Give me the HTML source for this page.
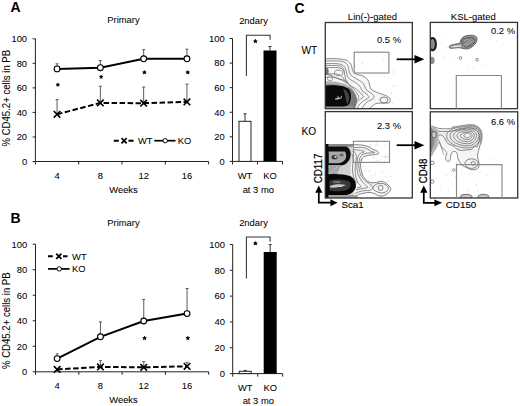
<!DOCTYPE html><html><head><meta charset="utf-8"><style>html,body{margin:0;padding:0;background:#fff;}svg{display:block;}text{stroke:#000;stroke-width:0.05px;}</style></head><body>
<svg width="520" height="406" viewBox="0 0 520 406" font-family="Liberation Sans, sans-serif" fill="#000">
<rect width="520" height="406" fill="#fff"/>
<text x="10.4" y="12.4" font-size="14" text-anchor="start" font-weight="bold" >A</text>
<text x="10.6" y="222.6" font-size="14" text-anchor="start" font-weight="bold" >B</text>
<text x="294.6" y="12.8" font-size="14" text-anchor="start" font-weight="bold" >C</text>
<path d="M35.4,38.8V161.5H208.6" fill="none" stroke="#222" stroke-width="1"/>
<path d="M32.6,161.50H35.4" stroke="#222" stroke-width="1"/>
<text x="27.099999999999998" y="164.8" font-size="9.4" text-anchor="end" font-weight="normal" >0</text>
<path d="M32.6,136.96H35.4" stroke="#222" stroke-width="1"/>
<text x="27.099999999999998" y="140.26000000000002" font-size="9.4" text-anchor="end" font-weight="normal" >20</text>
<path d="M32.6,112.42H35.4" stroke="#222" stroke-width="1"/>
<text x="27.099999999999998" y="115.71999999999998" font-size="9.4" text-anchor="end" font-weight="normal" >40</text>
<path d="M32.6,87.88H35.4" stroke="#222" stroke-width="1"/>
<text x="27.099999999999998" y="91.17999999999999" font-size="9.4" text-anchor="end" font-weight="normal" >60</text>
<path d="M32.6,63.34H35.4" stroke="#222" stroke-width="1"/>
<text x="27.099999999999998" y="66.63999999999999" font-size="9.4" text-anchor="end" font-weight="normal" >80</text>
<path d="M32.6,38.80H35.4" stroke="#222" stroke-width="1"/>
<text x="27.099999999999998" y="42.099999999999994" font-size="9.4" text-anchor="end" font-weight="normal" >100</text>
<path d="M35.40,161.5V164.5" stroke="#222" stroke-width="1"/>
<path d="M78.70,161.5V164.5" stroke="#222" stroke-width="1"/>
<path d="M122.00,161.5V164.5" stroke="#222" stroke-width="1"/>
<path d="M165.30,161.5V164.5" stroke="#222" stroke-width="1"/>
<path d="M208.60,161.5V164.5" stroke="#222" stroke-width="1"/>
<text x="57.05" y="178.8" font-size="9.4" text-anchor="middle" font-weight="normal" >4</text>
<text x="100.35" y="178.8" font-size="9.4" text-anchor="middle" font-weight="normal" >8</text>
<text x="143.65" y="178.8" font-size="9.4" text-anchor="middle" font-weight="normal" >12</text>
<text x="186.95" y="178.8" font-size="9.4" text-anchor="middle" font-weight="normal" >16</text>
<text x="123.5" y="193.1" font-size="9.4" text-anchor="middle" font-weight="normal" >Weeks</text>
<text x="123.5" y="23.3" font-size="9.4" text-anchor="middle" font-weight="normal" >Primary</text>
<text transform="translate(10.1,98.2) scale(1.1,1) rotate(-90)" font-size="9.6" text-anchor="middle">% CD45.2+ cells in PB</text>
<path d="M57.05,68.9V63.8M55.55,63.8H58.55" stroke="#4a4a4a" stroke-width="0.9" fill="none"/>
<path d="M57.05,114.3V99.6M55.55,99.6H58.55" stroke="#4a4a4a" stroke-width="0.9" fill="none"/>
<path d="M100.35,67.7V60.5M98.85,60.5H101.85" stroke="#4a4a4a" stroke-width="0.9" fill="none"/>
<path d="M100.35,102.9V86.2M98.85,86.2H101.85" stroke="#4a4a4a" stroke-width="0.9" fill="none"/>
<path d="M143.65,58.8V49.7M142.15,49.7H145.15" stroke="#4a4a4a" stroke-width="0.9" fill="none"/>
<path d="M143.65,103.2V87.1M142.15,87.1H145.15" stroke="#4a4a4a" stroke-width="0.9" fill="none"/>
<path d="M186.95,58.8V49.2M185.45,49.2H188.45" stroke="#4a4a4a" stroke-width="0.9" fill="none"/>
<path d="M186.95,101.9V84.2M185.45,84.2H188.45" stroke="#4a4a4a" stroke-width="0.9" fill="none"/>
<path d="M57.85,84.70L57.85,83.15M57.85,84.70L59.32,84.22M57.85,84.70L58.76,85.95M57.85,84.70L56.94,85.95M57.85,84.70L56.38,84.22" stroke="#000" stroke-width="1.15" stroke-linecap="round" fill="none"/>
<path d="M101.15,76.80L101.15,75.25M101.15,76.80L102.62,76.32M101.15,76.80L102.06,78.05M101.15,76.80L100.24,78.05M101.15,76.80L99.68,76.32" stroke="#000" stroke-width="1.15" stroke-linecap="round" fill="none"/>
<path d="M144.45,72.40L144.45,70.85M144.45,72.40L145.92,71.92M144.45,72.40L145.36,73.65M144.45,72.40L143.54,73.65M144.45,72.40L142.98,71.92" stroke="#000" stroke-width="1.15" stroke-linecap="round" fill="none"/>
<path d="M187.75,72.40L187.75,70.85M187.75,72.40L189.22,71.92M187.75,72.40L188.66,73.65M187.75,72.40L186.84,73.65M187.75,72.40L186.28,71.92" stroke="#000" stroke-width="1.15" stroke-linecap="round" fill="none"/>
<polyline points="57.05,114.3 100.35,102.9 143.65,103.2 186.95,101.9" fill="none" stroke="#000" stroke-width="2" stroke-dasharray="5.5,2.5"/>
<polyline points="57.05,68.9 100.35,67.7 143.65,58.8 186.95,58.8" fill="none" stroke="#000" stroke-width="2"/>
<path d="M53.75,111.00L60.35,117.60M53.75,117.60L60.35,111.00" stroke="#000" stroke-width="1.6"/>
<circle cx="57.05" cy="68.9" r="2.9" fill="#fff" stroke="#000" stroke-width="1.1"/>
<path d="M97.05,99.60L103.65,106.20M97.05,106.20L103.65,99.60" stroke="#000" stroke-width="1.6"/>
<circle cx="100.35" cy="67.7" r="2.9" fill="#fff" stroke="#000" stroke-width="1.1"/>
<path d="M140.35,99.90L146.95,106.50M140.35,106.50L146.95,99.90" stroke="#000" stroke-width="1.6"/>
<circle cx="143.65" cy="58.8" r="2.9" fill="#fff" stroke="#000" stroke-width="1.1"/>
<path d="M183.65,98.60L190.25,105.20M183.65,105.20L190.25,98.60" stroke="#000" stroke-width="1.6"/>
<circle cx="186.95" cy="58.8" r="2.9" fill="#fff" stroke="#000" stroke-width="1.1"/>
<path d="M113.8,140.8H118.8M128.5,140.8H133.6" stroke="#000" stroke-width="1.9"/>
<path d="M121.5,138.20000000000002L126.69999999999999,143.4M121.5,143.4L126.69999999999999,138.20000000000002" stroke="#000" stroke-width="1.8"/>
<text x="138" y="144.10000000000002" font-size="9.4" text-anchor="start" font-weight="normal" >WT</text>
<path d="M154.3,140.7H175.5" stroke="#000" stroke-width="1.7"/>
<circle cx="165.2" cy="140.7" r="2.2" fill="#fff" stroke="#000" stroke-width="0.95"/>
<text x="177.7" y="144.0" font-size="9.4" text-anchor="start" font-weight="normal" >KO</text>
<path d="M35.5,244.2V371.8H208.7" fill="none" stroke="#222" stroke-width="1"/>
<path d="M32.7,371.80H35.5" stroke="#222" stroke-width="1"/>
<text x="27.2" y="375.1" font-size="9.4" text-anchor="end" font-weight="normal" >0</text>
<path d="M32.7,346.28H35.5" stroke="#222" stroke-width="1"/>
<text x="27.2" y="349.58000000000004" font-size="9.4" text-anchor="end" font-weight="normal" >20</text>
<path d="M32.7,320.76H35.5" stroke="#222" stroke-width="1"/>
<text x="27.2" y="324.06" font-size="9.4" text-anchor="end" font-weight="normal" >40</text>
<path d="M32.7,295.24H35.5" stroke="#222" stroke-width="1"/>
<text x="27.2" y="298.54" font-size="9.4" text-anchor="end" font-weight="normal" >60</text>
<path d="M32.7,269.72H35.5" stroke="#222" stroke-width="1"/>
<text x="27.2" y="273.02000000000004" font-size="9.4" text-anchor="end" font-weight="normal" >80</text>
<path d="M32.7,244.20H35.5" stroke="#222" stroke-width="1"/>
<text x="27.2" y="247.5" font-size="9.4" text-anchor="end" font-weight="normal" >100</text>
<path d="M35.50,371.8V374.8" stroke="#222" stroke-width="1"/>
<path d="M78.80,371.8V374.8" stroke="#222" stroke-width="1"/>
<path d="M122.10,371.8V374.8" stroke="#222" stroke-width="1"/>
<path d="M165.40,371.8V374.8" stroke="#222" stroke-width="1"/>
<path d="M208.70,371.8V374.8" stroke="#222" stroke-width="1"/>
<text x="57.15" y="389.2" font-size="9.4" text-anchor="middle" font-weight="normal" >4</text>
<text x="100.45" y="389.2" font-size="9.4" text-anchor="middle" font-weight="normal" >8</text>
<text x="143.75" y="389.2" font-size="9.4" text-anchor="middle" font-weight="normal" >12</text>
<text x="187.05" y="389.2" font-size="9.4" text-anchor="middle" font-weight="normal" >16</text>
<text x="123.5" y="403.2" font-size="9.4" text-anchor="middle" font-weight="normal" >Weeks</text>
<text x="123.5" y="225.6" font-size="9.4" text-anchor="middle" font-weight="normal" >Primary</text>
<text transform="translate(10.1,320.7) scale(1.1,1) rotate(-90)" font-size="9.6" text-anchor="middle">% CD45.2+ cells in PB</text>
<path d="M57.15,358.6V353.9M55.65,353.9H58.65" stroke="#4a4a4a" stroke-width="0.9" fill="none"/>
<path d="M100.45,336.8V321.9M98.95,321.9H101.95" stroke="#4a4a4a" stroke-width="0.9" fill="none"/>
<path d="M100.45,366.9V360.7M98.95,360.7H101.95" stroke="#4a4a4a" stroke-width="0.9" fill="none"/>
<path d="M143.75,321.0V299.5M142.25,299.5H145.25" stroke="#4a4a4a" stroke-width="0.9" fill="none"/>
<path d="M143.75,367.3V361.6M142.25,361.6H145.25" stroke="#4a4a4a" stroke-width="0.9" fill="none"/>
<path d="M187.05,313.6V288.5M185.55,288.5H188.55" stroke="#4a4a4a" stroke-width="0.9" fill="none"/>
<path d="M187.05,366.3V362.3M185.55,362.3H188.55" stroke="#4a4a4a" stroke-width="0.9" fill="none"/>
<path d="M144.55,338.10L144.55,336.55M144.55,338.10L146.02,337.62M144.55,338.10L145.46,339.35M144.55,338.10L143.64,339.35M144.55,338.10L143.08,337.62" stroke="#000" stroke-width="1.15" stroke-linecap="round" fill="none"/>
<path d="M187.85,338.10L187.85,336.55M187.85,338.10L189.32,337.62M187.85,338.10L188.76,339.35M187.85,338.10L186.94,339.35M187.85,338.10L186.38,337.62" stroke="#000" stroke-width="1.15" stroke-linecap="round" fill="none"/>
<polyline points="57.15,369.4 100.45,366.9 143.75,367.3 187.05,366.3" fill="none" stroke="#000" stroke-width="2" stroke-dasharray="5.5,2.5"/>
<polyline points="57.15,358.6 100.45,336.8 143.75,321.0 187.05,313.6" fill="none" stroke="#000" stroke-width="2"/>
<path d="M53.85,366.10L60.45,372.70M53.85,372.70L60.45,366.10" stroke="#000" stroke-width="1.6"/>
<circle cx="57.15" cy="358.6" r="2.9" fill="#fff" stroke="#000" stroke-width="1.1"/>
<path d="M97.15,363.60L103.75,370.20M97.15,370.20L103.75,363.60" stroke="#000" stroke-width="1.6"/>
<circle cx="100.45" cy="336.8" r="2.9" fill="#fff" stroke="#000" stroke-width="1.1"/>
<path d="M140.45,364.00L147.05,370.60M140.45,370.60L147.05,364.00" stroke="#000" stroke-width="1.6"/>
<circle cx="143.75" cy="321.0" r="2.9" fill="#fff" stroke="#000" stroke-width="1.1"/>
<path d="M183.75,363.00L190.35,369.60M183.75,369.60L190.35,363.00" stroke="#000" stroke-width="1.6"/>
<circle cx="187.05" cy="313.6" r="2.9" fill="#fff" stroke="#000" stroke-width="1.1"/>
<path d="M48,256.3H52.8M63,256.3H67.5" stroke="#000" stroke-width="1.9"/>
<path d="M56.199999999999996,253.70000000000002L61.4,258.90000000000003M56.199999999999996,258.90000000000003L61.4,253.70000000000002" stroke="#000" stroke-width="1.8"/>
<text x="72.1" y="259.6" font-size="9.4" text-anchor="start" font-weight="normal" >WT</text>
<path d="M48,268.9H69.6" stroke="#000" stroke-width="1.7"/>
<circle cx="59.2" cy="268.9" r="2.2" fill="#fff" stroke="#000" stroke-width="0.95"/>
<text x="72.1" y="272.2" font-size="9.4" text-anchor="start" font-weight="normal" >KO</text>
<path d="M232.5,38.5V161.4H282.5" fill="none" stroke="#222" stroke-width="1"/>
<path d="M229.7,161.40H232.5" stroke="#222" stroke-width="1"/>
<text x="224.7" y="164.70000000000002" font-size="9.4" text-anchor="end" font-weight="normal" >0</text>
<path d="M229.7,136.82H232.5" stroke="#222" stroke-width="1"/>
<text x="224.7" y="140.12" font-size="9.4" text-anchor="end" font-weight="normal" >20</text>
<path d="M229.7,112.24H232.5" stroke="#222" stroke-width="1"/>
<text x="224.7" y="115.54" font-size="9.4" text-anchor="end" font-weight="normal" >40</text>
<path d="M229.7,87.66H232.5" stroke="#222" stroke-width="1"/>
<text x="224.7" y="90.96" font-size="9.4" text-anchor="end" font-weight="normal" >60</text>
<path d="M229.7,63.08H232.5" stroke="#222" stroke-width="1"/>
<text x="224.7" y="66.38" font-size="9.4" text-anchor="end" font-weight="normal" >80</text>
<path d="M229.7,38.50H232.5" stroke="#222" stroke-width="1"/>
<text x="224.7" y="41.8" font-size="9.4" text-anchor="end" font-weight="normal" >100</text>
<path d="M232.5,161.4V164.4" stroke="#222" stroke-width="1"/>
<path d="M257.5,161.4V164.4" stroke="#222" stroke-width="1"/>
<path d="M282.5,161.4V164.4" stroke="#222" stroke-width="1"/>
<path d="M245.00,121.3V113.8M243.50,113.8H246.50" stroke="#333" stroke-width="1"/>
<rect x="239.00" y="121.3" width="12" height="40.10" fill="#fff" stroke="#222" stroke-width="1"/>
<path d="M270.00,50.5V46.5M268.50,46.5H271.50" stroke="#333" stroke-width="1"/>
<rect x="263.50" y="50.5" width="13" height="110.90" fill="#000"/>
<path d="M246.4,76V35.3H270.1V39.7" fill="none" stroke="#333" stroke-width="1.05"/>
<path d="M255.40,41.20L255.40,39.65M255.40,41.20L256.87,40.72M255.40,41.20L256.31,42.45M255.40,41.20L254.49,42.45M255.40,41.20L253.93,40.72" stroke="#000" stroke-width="1.15" stroke-linecap="round" fill="none"/>
<text x="245.0" y="179" font-size="9.4" text-anchor="middle" font-weight="normal" >WT</text>
<text x="270.0" y="179" font-size="9.4" text-anchor="middle" font-weight="normal" >KO</text>
<text x="258.3" y="193.1" font-size="9.4" text-anchor="middle" font-weight="normal" >at 3 mo</text>
<text x="253.5" y="24.4" font-size="9.4" text-anchor="middle" font-weight="normal" >2ndary</text>
<path d="M232.7,244.5V373.6H282.7" fill="none" stroke="#222" stroke-width="1"/>
<path d="M229.89999999999998,373.60H232.7" stroke="#222" stroke-width="1"/>
<text x="224.89999999999998" y="376.90000000000003" font-size="9.4" text-anchor="end" font-weight="normal" >0</text>
<path d="M229.89999999999998,347.78H232.7" stroke="#222" stroke-width="1"/>
<text x="224.89999999999998" y="351.08000000000004" font-size="9.4" text-anchor="end" font-weight="normal" >20</text>
<path d="M229.89999999999998,321.96H232.7" stroke="#222" stroke-width="1"/>
<text x="224.89999999999998" y="325.26000000000005" font-size="9.4" text-anchor="end" font-weight="normal" >40</text>
<path d="M229.89999999999998,296.14H232.7" stroke="#222" stroke-width="1"/>
<text x="224.89999999999998" y="299.44" font-size="9.4" text-anchor="end" font-weight="normal" >60</text>
<path d="M229.89999999999998,270.32H232.7" stroke="#222" stroke-width="1"/>
<text x="224.89999999999998" y="273.62" font-size="9.4" text-anchor="end" font-weight="normal" >80</text>
<path d="M229.89999999999998,244.50H232.7" stroke="#222" stroke-width="1"/>
<text x="224.89999999999998" y="247.8" font-size="9.4" text-anchor="end" font-weight="normal" >100</text>
<path d="M232.7,373.6V376.6" stroke="#222" stroke-width="1"/>
<path d="M257.7,373.6V376.6" stroke="#222" stroke-width="1"/>
<path d="M282.7,373.6V376.6" stroke="#222" stroke-width="1"/>
<path d="M245.20,371.3V370.4M243.70,370.4H246.70" stroke="#333" stroke-width="1"/>
<rect x="239.20" y="371.3" width="12" height="2.30" fill="#fff" stroke="#222" stroke-width="1"/>
<path d="M270.20,252V244.6M268.70,244.6H271.70" stroke="#333" stroke-width="1"/>
<rect x="263.70" y="252" width="13" height="121.60" fill="#000"/>
<path d="M246.4,278.4V236.9H270.1V241.7" fill="none" stroke="#333" stroke-width="1.05"/>
<path d="M255.40,243.40L255.40,241.85M255.40,243.40L256.87,242.92M255.40,243.40L256.31,244.65M255.40,243.40L254.49,244.65M255.40,243.40L253.93,242.92" stroke="#000" stroke-width="1.15" stroke-linecap="round" fill="none"/>
<text x="245.2" y="391.3" font-size="9.4" text-anchor="middle" font-weight="normal" >WT</text>
<text x="270.2" y="391.3" font-size="9.4" text-anchor="middle" font-weight="normal" >KO</text>
<text x="258.3" y="404.1" font-size="9.4" text-anchor="middle" font-weight="normal" >at 3 mo</text>
<text x="253.5" y="225.6" font-size="9.4" text-anchor="middle" font-weight="normal" >2ndary</text>
<defs><clipPath id="c1"><rect x="325.3" y="22.5" width="87" height="86.2"/></clipPath><clipPath id="c2"><rect x="430.3" y="22.4" width="87.2" height="86.3"/></clipPath><clipPath id="c3"><rect x="325.3" y="111.6" width="87" height="86.4"/></clipPath><clipPath id="c4"><rect x="430.3" y="111.8" width="87.4" height="86.2"/></clipPath><radialGradient id="g1" cx="0.45" cy="0.55" r="0.55"><stop offset="0" stop-color="#000"/><stop offset="0.65" stop-color="#0a0a0a"/><stop offset="0.85" stop-color="#555"/><stop offset="1" stop-color="#aaa" stop-opacity="0"/></radialGradient><radialGradient id="gk" cx="0.5" cy="0.5" r="0.5"><stop offset="0" stop-color="#777"/><stop offset="0.6" stop-color="#999"/><stop offset="1" stop-color="#bbb" stop-opacity="0.3"/></radialGradient></defs>
<g clip-path="url(#c1)">
<path d="M324.0,58.9C325.4,58.9 330.0,58.6 332.6,58.6C335.2,58.6 337.2,58.6 339.5,58.9C341.8,59.2 344.7,59.6 346.4,60.2C348.1,60.9 349.0,61.8 349.9,62.8C350.8,63.8 351.2,65.0 351.6,66.2C352.0,67.4 352.0,68.6 352.4,69.7C352.8,70.8 353.3,72.3 354.2,73.1C355.1,73.9 356.2,74.1 357.6,74.6C359.0,75.0 360.9,75.2 362.4,75.8C363.8,76.4 365.2,77.2 366.3,78.2C367.4,79.2 368.1,80.3 368.7,81.5C369.2,82.7 369.2,84.1 369.6,85.4C370.0,86.7 370.2,88.2 371.1,89.2C372.0,90.2 373.5,90.9 374.9,91.6C376.3,92.3 378.1,92.9 379.7,93.5C381.3,94.1 383.1,94.4 384.5,95.0C385.9,95.6 387.3,96.1 388.3,96.9C389.3,97.7 390.1,98.8 390.3,99.8C390.5,100.8 390.3,102.2 389.3,102.7C388.3,103.2 386.1,103.0 384.5,103.1C382.9,103.2 381.1,103.0 379.7,103.1C378.3,103.2 377.0,103.2 375.9,103.6C374.8,104.0 374.0,104.8 373.0,105.5C372.0,106.2 370.8,107.2 370.1,107.9C369.4,108.7 376.7,109.7 369.0,110.0C361.3,110.3 331.5,110.0 324.0,110.0" fill="#f7f7f7" stroke="#6a6a6a" stroke-width="0.8"/>
<path d="M324.0,61.0C325.7,61.0 331.4,60.9 334.3,60.9C337.2,60.9 339.3,60.9 341.2,61.2C343.1,61.5 344.5,62.0 345.6,62.8C346.8,63.6 347.5,64.9 348.1,66.2C348.7,67.5 348.6,69.1 349.0,70.5C349.4,71.9 349.8,73.6 350.7,74.8C351.6,76.0 352.9,76.6 354.2,77.5C355.5,78.4 357.1,79.2 358.5,80.0C359.9,80.8 361.4,81.5 362.5,82.5C363.6,83.5 364.1,85.0 364.8,86.3C365.5,87.6 365.6,89.1 366.7,90.2C367.8,91.3 369.9,92.1 371.1,93.1C372.3,94.0 373.6,95.0 373.9,95.9C374.2,96.9 373.8,98.0 373.0,98.8C372.2,99.6 370.4,99.9 369.1,100.7C367.8,101.5 366.4,102.5 365.3,103.6C364.2,104.7 363.0,106.4 362.4,107.5C361.8,108.6 361.6,109.6 361.5,110.0" fill="none" stroke="#6a6a6a" stroke-width="0.75"/>
<path d="M324.0,63.6C325.9,63.6 332.3,63.5 335.2,63.6C338.1,63.8 339.6,63.9 341.2,64.5C342.8,65.1 343.8,65.9 344.7,67.1C345.6,68.2 346.0,70.0 346.4,71.4C346.8,72.8 346.8,74.4 347.3,75.7C347.8,77.0 348.4,78.0 349.5,79.0C350.6,80.0 352.4,80.7 353.8,81.5C355.2,82.3 356.5,83.0 357.6,84.0C358.7,85.0 359.7,86.1 360.5,87.3C361.3,88.5 361.4,90.0 362.4,91.1C363.4,92.2 365.2,93.0 366.3,94.0C367.4,95.0 369.0,96.1 369.1,96.9C369.2,97.7 368.3,98.0 367.2,98.8C366.1,99.6 363.8,100.6 362.4,101.7C361.0,102.8 359.5,104.1 358.6,105.5C357.7,106.9 357.3,109.2 357.0,110.0" fill="none" stroke="#6a6a6a" stroke-width="0.75"/>
<path d="M324.0,67.3C324.9,67.3 327.5,67.5 329.2,67.6C330.9,67.6 332.6,67.5 334.3,67.6C336.0,67.6 338.1,67.6 339.5,67.9C340.9,68.2 342.1,68.7 343.0,69.7C343.9,70.7 344.3,72.4 344.7,74.0C345.1,75.6 345.0,77.5 345.6,79.1C346.2,80.7 347.1,82.2 348.1,83.4C349.1,84.6 350.5,85.7 351.8,86.5C353.1,87.3 354.6,87.7 355.7,88.5C356.8,89.3 357.7,90.2 358.6,91.1C359.6,92.0 360.6,93.0 361.4,94.0C362.2,95.0 363.7,95.9 363.4,96.9C363.1,97.9 360.8,98.7 359.5,99.8C358.2,100.9 356.8,102.3 355.7,103.6C354.6,104.9 353.4,106.4 352.8,107.5C352.2,108.6 352.1,109.6 352.0,110.0" fill="none" stroke="#6a6a6a" stroke-width="0.75"/>
<path d="M324.0,65.4C325.7,65.4 331.2,65.4 334.0,65.5C336.8,65.6 338.9,65.7 340.5,66.2C342.1,66.7 342.6,67.5 343.3,68.5C344.0,69.5 344.4,71.8 344.6,72.5" fill="none" stroke="#6a6a6a" stroke-width="0.75"/>
<path d="M324.0,74.2C324.7,74.2 326.7,74.2 328.0,74.4C329.3,74.6 330.8,75.1 332.0,75.6C333.2,76.1 334.2,77.0 335.5,77.6C336.8,78.2 338.5,78.8 340.0,79.2C341.5,79.7 343.2,79.8 344.5,80.3C345.8,80.8 347.4,82.1 348.0,82.5" fill="none" stroke="#6a6a6a" stroke-width="0.75"/>
<path d="M324.0,77.6C325.0,77.5 327.8,77.1 330.0,77.2C332.2,77.3 334.9,77.6 337.0,78.2C339.1,78.8 340.9,79.7 342.5,80.6C344.1,81.5 345.8,83.1 346.5,83.6" fill="none" stroke="#6a6a6a" stroke-width="0.75"/>
<path d="M324.0,73.9L325.1,73.9L326.1,73.9L327.2,73.9L328.3,73.9L329.3,73.9L330.4,73.9L331.4,73.9L332.5,73.9L333.6,73.8L334.6,73.9L335.7,74.0L336.7,74.1L337.8,74.3L338.8,74.7L339.8,75.0L340.7,75.5L341.3,76.1L342.0,76.8L342.7,77.4L343.3,78.2L343.8,79.0L344.3,79.7L344.8,80.5L345.4,81.3L346.1,82.0L346.9,82.7L347.5,83.5L348.2,84.3L349.0,85.0L349.8,85.7L350.6,86.4L351.5,87.0L352.3,87.6L353.1,88.3L353.8,89.0L354.5,89.7L355.2,90.6L355.8,91.4L356.5,92.2L357.0,93.1L357.4,94.0L357.9,94.9L358.3,95.8L358.7,96.8L358.7,97.7L358.3,98.5L357.6,99.3L357.0,100.1L356.4,100.9L355.9,101.8L355.3,102.7L354.8,103.5L354.2,104.4L353.6,105.3L353.1,106.2L352.5,107.1L352.0,108.0L351.6,109.0L351.2,110.0" fill="none" stroke="#6a6a6a" stroke-width="0.75"/>
<circle cx="355.1" cy="66.5" r="0.45" fill="#b0b0b0"/><circle cx="364.6" cy="88.0" r="0.45" fill="#b0b0b0"/><circle cx="393.2" cy="75.3" r="0.45" fill="#b0b0b0"/><circle cx="392.4" cy="103.4" r="0.45" fill="#b0b0b0"/><circle cx="393.2" cy="71.0" r="0.45" fill="#b0b0b0"/><circle cx="363.0" cy="63.8" r="0.45" fill="#b0b0b0"/><circle cx="362.1" cy="62.6" r="0.45" fill="#b0b0b0"/><circle cx="379.6" cy="98.8" r="0.45" fill="#b0b0b0"/><circle cx="388.5" cy="76.9" r="0.45" fill="#b0b0b0"/><circle cx="380.8" cy="93.6" r="0.45" fill="#b0b0b0"/><circle cx="357.5" cy="86.4" r="0.45" fill="#b0b0b0"/><circle cx="391.3" cy="92.7" r="0.45" fill="#b0b0b0"/><circle cx="384.8" cy="76.9" r="0.45" fill="#b0b0b0"/><circle cx="361.3" cy="93.0" r="0.45" fill="#b0b0b0"/><circle cx="367.6" cy="93.6" r="0.45" fill="#b0b0b0"/><circle cx="393.8" cy="72.6" r="0.45" fill="#b0b0b0"/><circle cx="370.5" cy="101.2" r="0.45" fill="#b0b0b0"/><circle cx="383.7" cy="60.8" r="0.45" fill="#b0b0b0"/><circle cx="359.2" cy="59.9" r="0.45" fill="#b0b0b0"/><circle cx="391.1" cy="93.9" r="0.45" fill="#b0b0b0"/><circle cx="360.0" cy="95.0" r="0.45" fill="#b0b0b0"/><circle cx="394.2" cy="86.2" r="0.45" fill="#b0b0b0"/><circle cx="368.4" cy="80.5" r="0.45" fill="#b0b0b0"/><circle cx="393.8" cy="85.8" r="0.45" fill="#b0b0b0"/><circle cx="375.6" cy="100.5" r="0.45" fill="#b0b0b0"/>
<ellipse cx="338.6" cy="72.9" rx="4.2" ry="2.8" fill="none" stroke="#777" stroke-width="0.8"/>
<ellipse cx="330" cy="78.3" rx="2.6" ry="2.6" fill="none" stroke="#888" stroke-width="0.8"/>
<ellipse cx="384" cy="100" rx="3.9" ry="3" fill="none" stroke="#666" stroke-width="0.8"/>
<ellipse cx="326.5" cy="71.4" rx="2.2" ry="3.6" fill="#777"/>
<path d="M324,81.5 C336,80.5 347,83.5 352.5,89 C356.5,94 357,101 355,110 H324Z" fill="#b0b0b0"/>
<path d="M324,84.5 C335,83.5 346,86 350.5,90.5 C354,95 354,102 352,110 H324Z" fill="#7e7e7e"/>
<path d="M348,87 C353,89.5 356.5,94 357,99.5 C357.3,103.5 356,106.5 354,109 L350,109 C352.5,104 353,98 350.5,93 C349.5,90.5 348.5,88.5 348,87Z" fill="#7a7a7a"/>
<path d="M325,85.8 C332,84.6 344,85 348.5,88.8 C351.7,92.3 351.7,99 349.5,103.8 C347.3,107 340,107.8 333,107.8 L325,107.8Z" fill="#0a0a0a"/>
<path d="M343,88.5 C346.5,90 349,93 349.3,97 C349.3,100 348.5,102.5 347,104.5 C346,100 345,94 343,88.5Z" fill="#444"/>
<path d="M335,98.6 C337.5,97.6 340.5,97.2 342.5,97.8 C340.5,99.2 337.5,99.7 335,99.5Z" fill="#bbb"/>
<circle cx="338" cy="97" r="0.7" fill="#ddd"/><circle cx="341.5" cy="96.3" r="0.6" fill="#ccc"/>
<rect x="325" y="106.5" width="28" height="2.4" fill="#9a9a9a"/>
</g>
<g clip-path="url(#c3)">
<path d="M353.5,144.6C354.8,144.7 359.0,144.8 361.4,145.1C363.8,145.4 366.2,145.8 368.1,146.5C370.0,147.2 371.3,148.6 372.9,149.4C374.5,150.2 376.8,150.6 377.7,151.3C378.6,152.0 378.9,152.9 378.4,153.5C377.9,154.1 376.2,154.3 374.8,154.6C373.4,154.9 371.6,154.8 370.0,155.1C368.4,155.3 366.5,155.6 365.2,156.1C363.9,156.6 363.0,157.0 362.3,158.0C361.6,159.0 361.2,160.8 360.9,162.1C360.6,163.4 360.5,164.6 360.6,166.0C360.7,167.4 360.9,169.1 361.4,170.8C361.8,172.6 362.3,174.8 363.3,176.5C364.3,178.2 365.8,179.8 367.2,180.9C368.6,182.0 370.4,182.6 372.0,182.8C373.6,183.0 375.2,182.6 376.8,182.3C378.4,182.1 380.2,181.2 381.6,181.3C383.0,181.4 384.1,182.0 385.4,182.8C386.7,183.6 388.4,185.1 389.3,186.2C390.2,187.3 390.9,188.4 390.7,189.5C390.5,190.6 389.5,191.8 388.3,192.9C387.1,194.0 385.1,195.3 383.5,195.8C381.9,196.3 380.1,196.1 378.7,195.8C377.2,195.5 376.2,194.4 374.8,193.8C373.4,193.2 371.6,192.6 370.0,192.4C368.4,192.2 366.6,192.7 365.2,192.9C363.8,193.1 362.7,193.5 361.4,193.8C360.1,194.2 358.7,194.1 357.5,195.0C356.3,195.9 359.6,198.3 354.0,199.0C348.4,199.7 329.0,208.2 324.0,199.0C319.0,189.8 324.0,153.2 324.0,144.0" fill="#f5f5f5" stroke="#666" stroke-width="0.8" />
<path d="M353.0,147.5C354.6,147.5 359.9,147.3 362.3,147.5C364.7,147.7 365.8,148.3 367.2,148.9C368.6,149.5 369.7,150.7 371.0,151.3C372.3,151.9 375.0,152.2 374.8,152.5C374.6,152.8 371.6,152.8 370.0,153.0C368.4,153.2 366.6,153.1 365.2,153.5C363.8,153.9 362.3,154.5 361.4,155.4C360.4,156.3 359.9,157.6 359.5,159.2C359.1,160.8 358.8,163.0 358.8,165.0C358.8,167.0 359.1,169.1 359.5,171.0C359.9,172.9 360.5,174.8 361.5,176.5C362.5,178.2 364.0,179.7 365.5,181.0C367.0,182.3 369.2,183.5 370.5,184.5C371.8,185.5 373.1,186.0 373.0,187.0C372.9,188.0 371.3,189.7 370.0,190.3C368.7,190.9 366.7,190.3 365.0,190.5C363.3,190.7 361.7,191.0 360.0,191.5C358.3,192.0 355.8,193.2 355.0,193.5" fill="none" stroke="#6a6a6a" stroke-width="0.75" />
<path d="M353.0,149.6C354.2,149.7 358.5,150.0 360.4,150.4C362.3,150.8 364.3,151.5 364.3,152.0C364.3,152.5 361.4,152.8 360.4,153.5C359.3,154.2 358.6,154.9 358.0,156.3C357.4,157.7 357.3,160.2 357.1,162.1C356.9,164.0 356.9,166.0 357.0,168.0C357.1,170.0 357.3,172.0 358.0,174.0C358.7,176.0 359.8,178.2 361.0,180.0C362.2,181.8 363.9,183.2 365.0,184.5C366.1,185.8 368.0,186.8 367.5,187.5C367.0,188.2 363.9,188.1 362.0,188.5C360.1,188.9 357.0,189.8 356.0,190.0" fill="none" stroke="#6a6a6a" stroke-width="0.75" />
<path d="M352.5,151.5C352.9,151.7 354.5,151.5 355.1,152.5C355.8,153.5 356.3,155.5 356.4,157.3C356.5,159.1 355.8,161.0 355.6,163.1C355.4,165.2 355.1,167.7 355.1,170.0C355.1,172.3 355.3,174.8 355.8,177.0C356.3,179.2 357.1,181.4 358.0,183.0C358.9,184.6 361.2,185.7 361.0,186.5C360.8,187.3 357.7,187.8 357.0,188.0" fill="none" stroke="#6a6a6a" stroke-width="0.75" />
<path d="M351.5,153.0C351.8,153.8 352.8,156.2 353.0,158.0C353.2,159.8 352.9,162.0 352.8,164.0C352.7,166.0 352.4,167.8 352.5,170.0C352.6,172.2 352.8,174.8 353.5,177.0C354.2,179.2 356.0,182.0 356.5,183.0" fill="none" stroke="#6a6a6a" stroke-width="0.75" />
<path d="M380.6,183.3C382.3,183.3 384.2,183.8 385.5,184.5C386.8,185.2 388.1,186.3 388.3,187.5C388.5,188.7 387.7,190.6 386.5,191.5C385.3,192.4 382.8,193.0 381.0,192.9C379.2,192.8 376.9,191.8 375.5,191.0C374.1,190.2 372.9,189.1 372.9,188.0C372.9,186.9 374.2,185.3 375.5,184.5C376.8,183.7 378.9,183.3 380.6,183.3Z" fill="none" stroke="#666" stroke-width="0.8" />
<ellipse cx="380.6" cy="187.8" rx="2.4" ry="2.6" fill="none" stroke="#666" stroke-width="0.8"/>
<circle cx="369.0" cy="149.5" r="0.45" fill="#aaa"/><circle cx="376.2" cy="160.3" r="0.45" fill="#aaa"/><circle cx="360.0" cy="167.4" r="0.45" fill="#aaa"/><circle cx="359.3" cy="163.7" r="0.45" fill="#aaa"/><circle cx="372.4" cy="183.3" r="0.45" fill="#aaa"/><circle cx="362.2" cy="153.2" r="0.45" fill="#aaa"/><circle cx="379.3" cy="189.4" r="0.45" fill="#aaa"/><circle cx="377.6" cy="161.8" r="0.45" fill="#aaa"/><circle cx="387.2" cy="156.5" r="0.45" fill="#aaa"/><circle cx="362.9" cy="147.9" r="0.45" fill="#aaa"/><circle cx="368.5" cy="182.8" r="0.45" fill="#aaa"/><circle cx="364.1" cy="171.1" r="0.45" fill="#aaa"/><circle cx="379.7" cy="160.6" r="0.45" fill="#aaa"/><circle cx="376.6" cy="145.1" r="0.45" fill="#aaa"/><circle cx="360.0" cy="152.3" r="0.45" fill="#aaa"/><circle cx="381.1" cy="163.4" r="0.45" fill="#aaa"/><circle cx="368.7" cy="171.3" r="0.45" fill="#aaa"/><circle cx="373.4" cy="157.0" r="0.45" fill="#aaa"/><circle cx="385.0" cy="176.9" r="0.45" fill="#aaa"/><circle cx="366.3" cy="170.7" r="0.45" fill="#aaa"/><circle cx="375.9" cy="185.8" r="0.45" fill="#aaa"/><circle cx="382.8" cy="156.4" r="0.45" fill="#aaa"/><circle cx="372.2" cy="179.9" r="0.45" fill="#aaa"/><circle cx="363.2" cy="166.4" r="0.45" fill="#aaa"/><circle cx="359.3" cy="175.4" r="0.45" fill="#aaa"/><circle cx="384.0" cy="170.7" r="0.45" fill="#aaa"/><circle cx="387.8" cy="157.7" r="0.45" fill="#aaa"/><circle cx="381.6" cy="171.7" r="0.45" fill="#aaa"/><circle cx="377.7" cy="164.8" r="0.45" fill="#aaa"/><circle cx="374.1" cy="175.2" r="0.45" fill="#aaa"/><circle cx="360.1" cy="177.1" r="0.45" fill="#aaa"/><circle cx="385.9" cy="156.2" r="0.45" fill="#aaa"/><circle cx="371.1" cy="175.4" r="0.45" fill="#aaa"/><circle cx="358.8" cy="165.1" r="0.45" fill="#aaa"/><circle cx="363.7" cy="147.9" r="0.45" fill="#aaa"/><circle cx="360.0" cy="180.4" r="0.45" fill="#aaa"/><circle cx="362.4" cy="154.4" r="0.45" fill="#aaa"/><circle cx="371.3" cy="185.6" r="0.45" fill="#aaa"/><circle cx="360.7" cy="164.5" r="0.45" fill="#aaa"/><circle cx="376.7" cy="186.2" r="0.45" fill="#aaa"/><circle cx="385.9" cy="185.2" r="0.45" fill="#aaa"/><circle cx="367.5" cy="162.8" r="0.45" fill="#aaa"/><circle cx="370.2" cy="186.2" r="0.45" fill="#aaa"/><circle cx="364.0" cy="153.6" r="0.45" fill="#aaa"/><circle cx="365.9" cy="166.2" r="0.45" fill="#aaa"/><circle cx="378.0" cy="155.1" r="0.45" fill="#aaa"/><circle cx="358.1" cy="162.9" r="0.45" fill="#aaa"/><circle cx="370.6" cy="170.3" r="0.45" fill="#aaa"/><circle cx="390.4" cy="176.5" r="0.45" fill="#aaa"/><circle cx="375.5" cy="172.9" r="0.45" fill="#aaa"/><circle cx="388.6" cy="181.0" r="0.45" fill="#aaa"/><circle cx="387.7" cy="181.9" r="0.45" fill="#aaa"/><circle cx="371.3" cy="161.9" r="0.45" fill="#aaa"/><circle cx="361.5" cy="173.7" r="0.45" fill="#aaa"/><circle cx="365.1" cy="150.1" r="0.45" fill="#aaa"/><circle cx="370.2" cy="143.1" r="0.45" fill="#aaa"/><circle cx="360.0" cy="145.0" r="0.45" fill="#aaa"/><circle cx="363.0" cy="149.3" r="0.45" fill="#aaa"/><circle cx="360.8" cy="159.5" r="0.45" fill="#aaa"/><circle cx="378.4" cy="145.0" r="0.45" fill="#aaa"/><circle cx="367.6" cy="148.9" r="0.45" fill="#aaa"/><circle cx="370.9" cy="144.5" r="0.45" fill="#aaa"/><circle cx="385.5" cy="161.9" r="0.45" fill="#aaa"/><circle cx="374.0" cy="151.7" r="0.45" fill="#aaa"/><circle cx="362.6" cy="144.0" r="0.45" fill="#aaa"/><circle cx="370.3" cy="147.3" r="0.45" fill="#aaa"/><circle cx="384.9" cy="145.2" r="0.45" fill="#aaa"/><circle cx="360.7" cy="161.0" r="0.45" fill="#aaa"/><circle cx="375.8" cy="144.9" r="0.45" fill="#aaa"/><circle cx="376.3" cy="142.5" r="0.45" fill="#aaa"/><circle cx="375.8" cy="161.6" r="0.45" fill="#aaa"/><circle cx="385.9" cy="155.9" r="0.45" fill="#aaa"/><circle cx="367.8" cy="149.3" r="0.45" fill="#aaa"/><circle cx="365.0" cy="157.4" r="0.45" fill="#aaa"/><circle cx="376.0" cy="157.6" r="0.45" fill="#aaa"/><circle cx="369.9" cy="146.5" r="0.45" fill="#aaa"/><circle cx="384.3" cy="161.7" r="0.45" fill="#aaa"/><circle cx="385.6" cy="158.1" r="0.45" fill="#aaa"/><circle cx="384.5" cy="156.8" r="0.45" fill="#aaa"/><circle cx="366.8" cy="152.4" r="0.45" fill="#aaa"/>
<path d="M324,144 H351.5 C352.5,150 351.5,160 350.5,168 C350.5,178 354,188 355,199 H324Z" fill="#cfcfcf"/>
<rect x="325" y="144" width="28" height="2.8" fill="#8a8a8a"/>
<path d="M325,146.4 H346 C349.5,147.5 351,151.5 350.6,155.5 C350.2,159.5 348,162.5 345,164.5 C341,166 336,166.5 331,166 L325,166Z" fill="#0d0d0d"/>
<path d="M328.6,151.5 H344.8 C346.6,153.5 346.6,157 345.2,159.6 C343.8,161.6 341.5,162.8 338.5,163.2 L328.6,163.2Z" fill="#a8a8a8"/>
<ellipse cx="334.5" cy="157.3" rx="3" ry="2.2" fill="#3a3a3a"/>
<ellipse cx="341.5" cy="155" rx="2.2" ry="1.5" fill="#666"/>
<ellipse cx="335.6" cy="156.8" rx="1.2" ry="0.9" fill="#eee"/>
<path d="M325,165 H342 C339,168 337.5,171 337.5,175 H325Z" fill="#a2a2a2"/>
<path d="M328.5,166.5 C331,169 334,171 337,173 M338,166.5 C335,169 332,171.5 329,173.5" stroke="#c8c8c8" stroke-width="1"/>
<path d="M325,174.6 C333,173.6 344,173.8 350.5,176.3 C354.6,178.6 356,182.5 355.9,186 C355.7,190 352.5,193.8 346,195.2 L325,195.2Z" fill="#070707"/>
<path d="M329.5,180.5 C336,178.8 345,179.2 349.5,181.6 C352,184 351,188 347,190 C341,191.6 334,191.6 329.5,190.5Z" fill="#383838"/>
<path d="M330,186 C334,184 341,183.6 346,185 C342,187.2 335,188 330,187.6Z" fill="#c8c8c8"/>
<ellipse cx="337" cy="182" rx="4" ry="1" fill="#777"/>
<rect x="325" y="195" width="32" height="3.2" fill="#a0a0a0"/>
<rect x="325" y="144" width="3.4" height="54" fill="#0a0a0a"/>
</g>
<g clip-path="url(#c2)">
<path d="M449.6,46.1C449.9,45.7 450.2,45.4 451.2,45.1C452.2,44.8 454.4,44.4 455.8,44.1C457.2,43.8 458.8,43.8 459.7,43.1C460.6,42.4 460.4,40.8 461.0,39.8C461.6,38.8 462.0,37.9 463.0,37.2C464.0,36.5 465.4,35.9 466.9,35.6C468.4,35.3 470.6,35.1 472.1,35.3C473.6,35.5 475.3,36.0 476.1,36.6C476.9,37.2 477.0,38.2 477.0,39.2C477.0,40.2 476.7,41.4 476.1,42.5C475.5,43.6 474.5,44.8 473.5,45.7C472.5,46.6 471.4,47.5 470.2,48.0C469.0,48.5 467.6,49.0 466.3,49.0C465.0,49.0 463.5,48.5 462.3,48.3C461.1,48.1 460.4,47.8 459.1,47.7C457.8,47.7 455.9,47.9 454.5,48.0C453.1,48.1 451.5,48.4 450.6,48.3C449.7,48.2 449.5,47.8 449.3,47.4C449.1,47.0 449.3,46.5 449.6,46.1Z" fill="#9a9a9a" stroke="#555" stroke-width="0.9" />
<path d="M461.7,40.5C462.1,39.4 463.6,38.8 465.0,38.2C466.4,37.7 468.7,37.2 470.2,37.2C471.7,37.2 473.3,37.5 474.1,38.2C474.9,38.9 475.0,40.2 474.8,41.2C474.6,42.2 473.8,43.5 472.8,44.4C471.8,45.3 470.2,46.3 468.9,46.7C467.6,47.1 466.1,47.3 465.0,47.0C463.9,46.7 462.9,46.1 462.3,45.0C461.8,43.9 461.2,41.6 461.7,40.5Z" fill="#7e7e7e" stroke="#555" stroke-width="0.8" />
<path d="M451,46.8 C454,45.6 458,45.2 461,45.5 L461,47 C458,46.9 454,47.3 451,47.3Z" fill="#e4e4e4"/>
<path d="M463.5,45.5 L471.5,39 M466,46 L473.5,40.5 M464,41 L468,38.8" stroke="#c8c8c8" stroke-width="0.7" fill="none"/>
<ellipse cx="432.6" cy="44.2" rx="3.3" ry="6.2" fill="#8a8a8a" stroke="#1e1e1e" stroke-width="2.1"/>
<ellipse cx="431.8" cy="60.4" rx="2.8" ry="3.6" fill="#8e8e8e"/>
<circle cx="468.7" cy="67.7" r="0.45" fill="#b4b4b4"/><circle cx="482.0" cy="65.1" r="0.45" fill="#b4b4b4"/><circle cx="496.5" cy="40.4" r="0.45" fill="#b4b4b4"/><circle cx="473.6" cy="67.7" r="0.45" fill="#b4b4b4"/><circle cx="490.4" cy="35.5" r="0.45" fill="#b4b4b4"/><circle cx="447.3" cy="47.7" r="0.45" fill="#b4b4b4"/><circle cx="444.4" cy="39.6" r="0.45" fill="#b4b4b4"/><circle cx="444.4" cy="56.8" r="0.45" fill="#b4b4b4"/><circle cx="487.0" cy="65.9" r="0.45" fill="#b4b4b4"/><circle cx="449.3" cy="58.6" r="0.45" fill="#b4b4b4"/>
<circle cx="460.4" cy="58" r="1.4" fill="none" stroke="#666" stroke-width="0.7"/>
<circle cx="477" cy="59.7" r="1.4" fill="none" stroke="#666" stroke-width="0.7"/>
</g>
<g clip-path="url(#c4)">
<path d="M429.0,126.0C429.5,126.0 430.6,125.8 432.1,126.2C433.7,126.6 436.1,127.9 438.3,128.3C440.6,128.7 443.5,128.8 445.6,128.8C447.7,128.8 448.9,128.6 450.8,128.3C452.7,128.1 454.8,127.7 457.0,127.3C459.2,126.9 461.9,126.0 464.3,125.7C466.7,125.4 469.4,125.0 471.5,125.2C473.6,125.4 475.1,125.8 476.7,126.7C478.3,127.6 480.0,128.9 480.9,130.4C481.8,131.9 481.8,133.9 481.9,135.6C482.0,137.3 481.8,139.1 481.4,140.8C481.0,142.5 480.3,144.4 479.8,146.0C479.3,147.6 478.9,149.0 478.5,150.5C478.1,152.0 477.6,153.6 477.5,155.0C477.4,156.4 477.8,157.7 478.0,159.0C478.2,160.3 478.9,161.7 479.0,163.0C479.1,164.3 479.3,165.9 478.8,167.0C478.3,168.1 477.3,169.1 476.0,169.5C474.7,169.9 472.6,169.8 471.0,169.5C469.4,169.2 467.6,168.1 466.3,167.5C465.0,166.9 464.2,166.8 463.2,166.0C462.2,165.2 461.0,164.0 460.1,162.8C459.2,161.6 458.5,160.2 458.0,158.7C457.5,157.1 457.5,154.7 457.0,153.5C456.5,152.3 455.8,151.6 454.9,151.4C454.0,151.2 452.5,151.8 451.8,152.5C451.1,153.2 451.2,154.2 450.8,155.6C450.4,157.0 450.4,159.9 449.7,160.8C449.0,161.7 447.3,161.3 446.6,160.8C445.9,160.3 445.6,159.1 445.6,157.7C445.6,156.3 447.0,153.9 446.6,152.5C446.2,151.1 444.5,150.5 443.5,149.3C442.5,148.1 441.1,146.6 440.4,145.2C439.7,143.8 439.9,141.9 439.3,141.0C438.7,140.1 437.9,139.2 437.0,140.0C436.1,140.8 435.3,144.3 434.0,146.0C432.7,147.7 429.8,149.3 429.0,150.0" fill="#f5f5f5" stroke="#6a6a6a" stroke-width="0.8" />
<path d="M432.0,129.5C433.0,129.8 435.8,130.7 438.0,131.0C440.2,131.3 442.7,131.5 445.0,131.5C447.3,131.5 449.8,131.2 452.0,131.0C454.2,130.8 455.8,130.4 458.0,130.0C460.2,129.6 462.8,128.6 465.0,128.3C467.2,128.0 469.7,127.8 471.5,128.0C473.3,128.2 474.8,128.7 476.0,129.5C477.2,130.3 478.4,131.6 479.0,133.0C479.6,134.4 479.6,136.3 479.5,138.0C479.4,139.7 478.9,141.5 478.5,143.0C478.1,144.5 477.6,146.5 477.0,147.0C476.4,147.5 475.6,145.8 474.7,146.2C473.8,146.6 472.9,148.7 471.5,149.3C470.1,149.9 468.0,149.7 466.3,149.9C464.6,150.1 462.8,150.5 461.2,150.4C459.6,150.3 458.2,150.0 457.0,149.3C455.8,148.6 455.3,147.0 453.9,146.2C452.5,145.3 450.1,145.2 448.7,144.2C447.3,143.2 446.6,141.4 445.6,140.0C444.7,138.6 444.0,136.8 443.0,136.0C442.0,135.2 440.6,134.7 439.5,135.0C438.4,135.3 437.4,136.7 436.5,138.0C435.6,139.3 434.4,142.2 434.0,143.0" fill="#ececec" stroke="#6a6a6a" stroke-width="0.8" />
<path d="M481.0,135.4C481.0,136.3 480.8,137.6 480.5,138.6C480.2,139.7 479.8,140.7 479.2,141.7C478.6,142.6 477.9,143.5 477.1,144.2C476.3,145.0 475.3,145.7 474.3,146.2C473.3,146.8 472.2,147.2 471.1,147.5C470.0,147.8 469.1,147.9 467.6,147.9C466.1,147.9 463.9,147.8 462.2,147.5C460.4,147.2 458.7,146.8 457.1,146.2C455.5,145.7 454.0,145.0 452.8,144.2C451.5,143.5 450.3,142.6 449.4,141.7C448.5,140.7 447.8,139.7 447.3,138.6C446.8,137.6 446.6,136.3 446.6,135.4C446.6,134.5 446.8,133.8 447.3,133.0C447.8,132.3 448.5,131.5 449.4,130.8C450.3,130.1 451.5,129.5 452.8,128.9C454.0,128.3 455.5,127.8 457.1,127.4C458.7,127.0 460.4,126.7 462.2,126.5C463.9,126.3 466.1,126.2 467.6,126.2C469.1,126.2 470.0,126.3 471.1,126.5C472.2,126.7 473.3,127.0 474.3,127.4C475.3,127.8 476.3,128.3 477.1,128.9C477.9,129.5 478.6,130.1 479.2,130.8C479.8,131.5 480.2,132.3 480.5,133.0C480.8,133.8 481.0,134.5 481.0,135.4Z" fill="none" stroke="#6a6a6a" stroke-width="0.75"/>
<path d="M478.8,135.4C478.8,136.2 478.6,137.2 478.4,138.1C478.1,139.0 477.8,139.8 477.3,140.6C476.8,141.4 476.2,142.1 475.5,142.8C474.8,143.4 474.0,144.0 473.2,144.4C472.3,144.9 471.4,145.2 470.5,145.5C469.6,145.7 468.8,145.8 467.6,145.8C466.4,145.8 464.5,145.7 463.1,145.5C461.6,145.2 460.2,144.9 458.9,144.4C457.5,144.0 456.3,143.4 455.2,142.8C454.2,142.1 453.2,141.4 452.4,140.6C451.7,139.8 451.1,139.0 450.7,138.1C450.3,137.2 450.1,136.2 450.1,135.4C450.1,134.6 450.3,134.1 450.7,133.4C451.1,132.8 451.7,132.1 452.4,131.6C453.2,131.0 454.2,130.4 455.2,130.0C456.3,129.5 457.5,129.1 458.9,128.8C460.2,128.4 461.6,128.2 463.1,128.0C464.5,127.8 466.4,127.7 467.6,127.7C468.8,127.7 469.6,127.8 470.5,128.0C471.4,128.2 472.3,128.4 473.2,128.8C474.0,129.1 474.8,129.5 475.5,130.0C476.2,130.4 476.8,131.0 477.3,131.6C477.8,132.1 478.1,132.8 478.4,133.4C478.6,134.1 478.8,134.6 478.8,135.4Z" fill="none" stroke="#666" stroke-width="0.75"/>
<path d="M476.5,135.4C476.5,136.0 476.4,136.9 476.2,137.6C476.0,138.3 475.7,138.9 475.3,139.6C475.0,140.2 474.5,140.8 473.9,141.3C473.4,141.8 472.7,142.3 472.1,142.6C471.4,143.0 470.7,143.3 469.9,143.4C469.2,143.6 468.6,143.7 467.6,143.7C466.6,143.7 465.1,143.6 464.0,143.4C462.8,143.3 461.6,143.0 460.6,142.6C459.6,142.3 458.6,141.8 457.7,141.3C456.8,140.8 456.1,140.2 455.5,139.6C454.9,138.9 454.4,138.3 454.1,137.6C453.8,136.9 453.6,136.0 453.6,135.4C453.6,134.8 453.8,134.3 454.1,133.8C454.4,133.3 454.9,132.8 455.5,132.3C456.1,131.9 456.8,131.4 457.7,131.1C458.6,130.7 459.6,130.4 460.6,130.1C461.6,129.8 462.8,129.6 464.0,129.5C465.1,129.3 466.6,129.3 467.6,129.3C468.6,129.3 469.2,129.3 469.9,129.5C470.7,129.6 471.4,129.8 472.1,130.1C472.7,130.4 473.4,130.7 473.9,131.1C474.5,131.4 475.0,131.9 475.3,132.3C475.7,132.8 476.0,133.3 476.2,133.8C476.4,134.3 476.5,134.8 476.5,135.4Z" fill="none" stroke="#666" stroke-width="0.75"/>
<path d="M474.3,135.4C474.3,135.9 474.2,136.5 474.1,137.0C473.9,137.5 473.7,138.1 473.4,138.5C473.1,139.0 472.7,139.4 472.3,139.8C471.9,140.2 471.5,140.5 471.0,140.8C470.4,141.1 469.9,141.3 469.3,141.4C468.8,141.6 468.3,141.7 467.6,141.7C466.9,141.7 465.8,141.6 464.9,141.4C464.0,141.3 463.1,141.1 462.4,140.8C461.6,140.5 460.8,140.2 460.2,139.8C459.5,139.4 459.0,139.0 458.5,138.5C458.1,138.1 457.7,137.5 457.5,137.0C457.2,136.5 457.1,135.9 457.1,135.4C457.1,134.9 457.2,134.6 457.5,134.2C457.7,133.8 458.1,133.4 458.5,133.1C459.0,132.8 459.5,132.4 460.2,132.1C460.8,131.9 461.6,131.6 462.4,131.4C463.1,131.2 464.0,131.1 464.9,131.0C465.8,130.9 466.9,130.8 467.6,130.8C468.3,130.8 468.8,130.9 469.3,131.0C469.9,131.1 470.4,131.2 471.0,131.4C471.5,131.6 471.9,131.9 472.3,132.1C472.7,132.4 473.1,132.8 473.4,133.1C473.7,133.4 473.9,133.8 474.1,134.2C474.2,134.6 474.3,134.9 474.3,135.4Z" fill="none" stroke="#606060" stroke-width="0.75"/>
<path d="M472.1,135.4C472.1,135.7 472.0,136.1 471.9,136.5C471.8,136.8 471.7,137.2 471.5,137.5C471.3,137.8 471.0,138.1 470.8,138.3C470.5,138.6 470.2,138.8 469.8,139.0C469.5,139.2 469.1,139.3 468.8,139.4C468.4,139.5 468.1,139.6 467.6,139.6C467.1,139.6 466.4,139.5 465.8,139.4C465.2,139.3 464.6,139.2 464.1,139.0C463.6,138.8 463.1,138.6 462.7,138.3C462.2,138.1 461.8,137.8 461.5,137.5C461.2,137.2 461.0,136.8 460.8,136.5C460.7,136.1 460.6,135.7 460.6,135.4C460.6,135.1 460.7,134.9 460.8,134.6C461.0,134.4 461.2,134.1 461.5,133.9C461.8,133.6 462.2,133.4 462.7,133.2C463.1,133.0 463.6,132.9 464.1,132.7C464.6,132.6 465.2,132.5 465.8,132.4C466.4,132.4 467.1,132.3 467.6,132.3C468.1,132.3 468.4,132.4 468.8,132.4C469.1,132.5 469.5,132.6 469.8,132.7C470.2,132.9 470.5,133.0 470.8,133.2C471.0,133.4 471.3,133.6 471.5,133.9C471.7,134.1 471.8,134.4 471.9,134.6C472.0,134.9 472.1,135.1 472.1,135.4Z" fill="none" stroke="#606060" stroke-width="0.75"/>
<path d="M470.1,135.4C470.1,135.6 470.0,135.8 470.0,136.0C469.9,136.2 469.8,136.4 469.7,136.5C469.6,136.7 469.5,136.9 469.3,137.0C469.2,137.2 469.0,137.3 468.8,137.4C468.6,137.5 468.4,137.6 468.2,137.6C468.0,137.7 467.9,137.7 467.6,137.7C467.3,137.7 466.9,137.7 466.6,137.6C466.3,137.6 466.0,137.5 465.7,137.4C465.4,137.3 465.1,137.2 464.9,137.0C464.6,136.9 464.4,136.7 464.3,136.5C464.1,136.4 464.0,136.2 463.9,136.0C463.8,135.8 463.8,135.6 463.8,135.4C463.8,135.2 463.8,135.1 463.9,135.0C464.0,134.8 464.1,134.7 464.3,134.6C464.4,134.4 464.6,134.3 464.9,134.2C465.1,134.1 465.4,134.0 465.7,133.9C466.0,133.9 466.3,133.8 466.6,133.8C466.9,133.7 467.3,133.7 467.6,133.7C467.9,133.7 468.0,133.7 468.2,133.8C468.4,133.8 468.6,133.9 468.8,133.9C469.0,134.0 469.2,134.1 469.3,134.2C469.5,134.3 469.6,134.4 469.7,134.6C469.8,134.7 469.9,134.8 470.0,135.0C470.0,135.1 470.1,135.2 470.1,135.4Z" fill="none" stroke="#666" stroke-width="0.75"/>
<path d="M452,127.8 C460,126.6 466,125.4 471.3,125.2 C475,125.4 478.5,127.3 480.3,130.5 C481.6,134 481.7,139 480.5,143.5" fill="none" stroke="#9a9a9a" stroke-width="2.2"/>
<ellipse cx="467.6" cy="135.3" rx="2.2" ry="1.3" fill="#f4f4f4"/>
<path d="M435.0,150.0C435.3,149.3 436.3,147.3 437.0,146.0C437.7,144.7 438.3,142.0 439.0,142.0C439.7,142.0 440.4,144.5 441.0,146.0C441.6,147.5 442.0,149.5 442.5,151.0C443.0,152.5 443.8,154.3 444.0,155.0" fill="none" stroke="#777" stroke-width="0.7" />
<path d="M429.5,125.8 C434,126.3 438,128.5 438.6,134 C439,141 436.5,150 431,157 L429.5,157Z" fill="#b4b4b4"/>
<path d="M429.5,127.5 C432.5,128.5 434.5,131 434.8,136 C435,142 433.5,148 430,153Z" fill="#8a8a8a"/>
<ellipse cx="434" cy="134.8" rx="2.3" ry="3.4" fill="#c8c8c8" stroke="#555" stroke-width="0.9"/>
<path d="M430.8,128 V152" stroke="#666" stroke-width="1.2"/>
<ellipse cx="471.5" cy="163.6" rx="6.5" ry="4.8" fill="none" stroke="#666" stroke-width="0.8"/>
<circle cx="473.1" cy="163.4" r="1.9" fill="none" stroke="#666" stroke-width="0.8"/>
<circle cx="468.2" cy="189.2" r="0.45" fill="#b4b4b4"/><circle cx="493.7" cy="159.5" r="0.45" fill="#b4b4b4"/><circle cx="456.4" cy="163.2" r="0.45" fill="#b4b4b4"/><circle cx="455.6" cy="176.4" r="0.45" fill="#b4b4b4"/><circle cx="456.9" cy="168.9" r="0.45" fill="#b4b4b4"/><circle cx="448.5" cy="191.0" r="0.45" fill="#b4b4b4"/><circle cx="463.0" cy="170.6" r="0.45" fill="#b4b4b4"/><circle cx="477.9" cy="190.7" r="0.45" fill="#b4b4b4"/><circle cx="467.3" cy="191.3" r="0.45" fill="#b4b4b4"/><circle cx="472.6" cy="173.9" r="0.45" fill="#b4b4b4"/><circle cx="474.0" cy="150.8" r="0.45" fill="#b4b4b4"/><circle cx="468.6" cy="158.2" r="0.45" fill="#b4b4b4"/><circle cx="440.3" cy="186.0" r="0.45" fill="#b4b4b4"/><circle cx="451.2" cy="171.3" r="0.45" fill="#b4b4b4"/><circle cx="487.1" cy="175.0" r="0.45" fill="#b4b4b4"/><circle cx="461.2" cy="173.3" r="0.45" fill="#b4b4b4"/><circle cx="476.1" cy="185.3" r="0.45" fill="#b4b4b4"/><circle cx="446.9" cy="175.2" r="0.45" fill="#b4b4b4"/><circle cx="456.2" cy="162.5" r="0.45" fill="#b4b4b4"/><circle cx="490.2" cy="172.8" r="0.45" fill="#b4b4b4"/><circle cx="476.5" cy="184.2" r="0.45" fill="#b4b4b4"/><circle cx="499.3" cy="169.9" r="0.45" fill="#b4b4b4"/><circle cx="479.8" cy="172.7" r="0.45" fill="#b4b4b4"/><circle cx="473.3" cy="181.2" r="0.45" fill="#b4b4b4"/><circle cx="469.4" cy="174.0" r="0.45" fill="#b4b4b4"/>
<circle cx="432.2" cy="162.8" r="1.8" fill="none" stroke="#666" stroke-width="0.8"/>
<circle cx="432.2" cy="181.5" r="1.7" fill="none" stroke="#666" stroke-width="0.8"/>
<circle cx="453.8" cy="170" r="1.3" fill="none" stroke="#777" stroke-width="0.7"/>
<ellipse cx="466.2" cy="196.6" rx="5.8" ry="2.3" fill="#c4c4c4" stroke="#555" stroke-width="0.8"/>
<ellipse cx="483.4" cy="196.6" rx="5.5" ry="2.3" fill="#c4c4c4" stroke="#555" stroke-width="0.8"/>
</g>
<text x="372.4" y="20" font-size="9.5" text-anchor="middle" font-weight="normal" >Lin(-)-gated</text>
<text x="473.3" y="20.1" font-size="9.5" text-anchor="middle" font-weight="normal" >KSL-gated</text>
<text x="301.4" y="54.1" font-size="10.2" text-anchor="start" font-weight="normal" >WT</text>
<text x="301.4" y="134.9" font-size="10.2" text-anchor="start" font-weight="normal" >KO</text>
<text x="377" y="42.7" font-size="9.4" text-anchor="start" font-weight="normal" >0.5 %</text>
<text x="491" y="34" font-size="9.4" text-anchor="start" font-weight="normal" >0.2 %</text>
<text x="377" y="129.4" font-size="9.4" text-anchor="start" font-weight="normal" >2.3 %</text>
<text x="491" y="125.4" font-size="9.4" text-anchor="start" font-weight="normal" >6.6 %</text>
<rect x="325.3" y="22.5" width="87.00" height="86.20" fill="none" stroke="#333" stroke-width="1.3"/>
<rect x="430.3" y="22.4" width="87.20" height="86.30" fill="none" stroke="#333" stroke-width="1.3"/>
<rect x="325.3" y="111.6" width="87.00" height="86.40" fill="none" stroke="#333" stroke-width="1.3"/>
<rect x="430.3" y="111.8" width="87.40" height="86.20" fill="none" stroke="#333" stroke-width="1.3"/>
<rect x="354.2" y="52.2" width="34.7" height="20.8" fill="none" stroke="#8a8a8a" stroke-width="1.15"/>
<rect x="353.4" y="141.3" width="36.1" height="21.1" fill="none" stroke="#8a8a8a" stroke-width="1.15"/>
<path d="M456.3,108.7V75.5H501.4V108.7" fill="none" stroke="#8a8a8a" stroke-width="1.15"/>
<path d="M456.5,198V164.6H502V198" fill="none" stroke="#8a8a8a" stroke-width="1.15"/>
<path d="M396.7,59.3H416" stroke="#000" stroke-width="1.8"/>
<path d="M414.5,55.099999999999994L424.3,59.3L414.5,63.5Z" fill="#000"/>
<path d="M396.7,145.2H416" stroke="#000" stroke-width="1.8"/>
<path d="M414.5,141.0L424.3,145.2L414.5,149.39999999999998Z" fill="#000"/>
<path d="M318.8,192V202.7H331" fill="none" stroke="#000" stroke-width="1.7"/>
<path d="M315.2,192.7L318.8,185.6L322.4,192.7Z M330.4,199.3L337.6,202.7L330.4,206.2Z" fill="#000"/>
<path d="M423.8,192V202.8H435" fill="none" stroke="#000" stroke-width="1.7"/>
<path d="M420.2,192.7L423.8,185.5L427.4,192.7Z M434.4,199.5L442.1,202.8L434.4,206.3Z" fill="#000"/>
<text x="341.4" y="207.5" font-size="9.8" text-anchor="start" font-weight="normal" style="stroke-width:0.12px">Sca1</text>
<text x="445.8" y="207.5" font-size="9.8" text-anchor="start" font-weight="normal" style="stroke-width:0.12px">CD150</text>
<text transform="translate(322.3,183.3) scale(1.1,1) rotate(-90)" font-size="9.8" style="stroke-width:0.22px">CD117</text>
<text transform="translate(427.2,183.2) scale(1.1,1) rotate(-90)" font-size="9.6" style="stroke-width:0.22px">CD48</text>
</svg></body></html>
